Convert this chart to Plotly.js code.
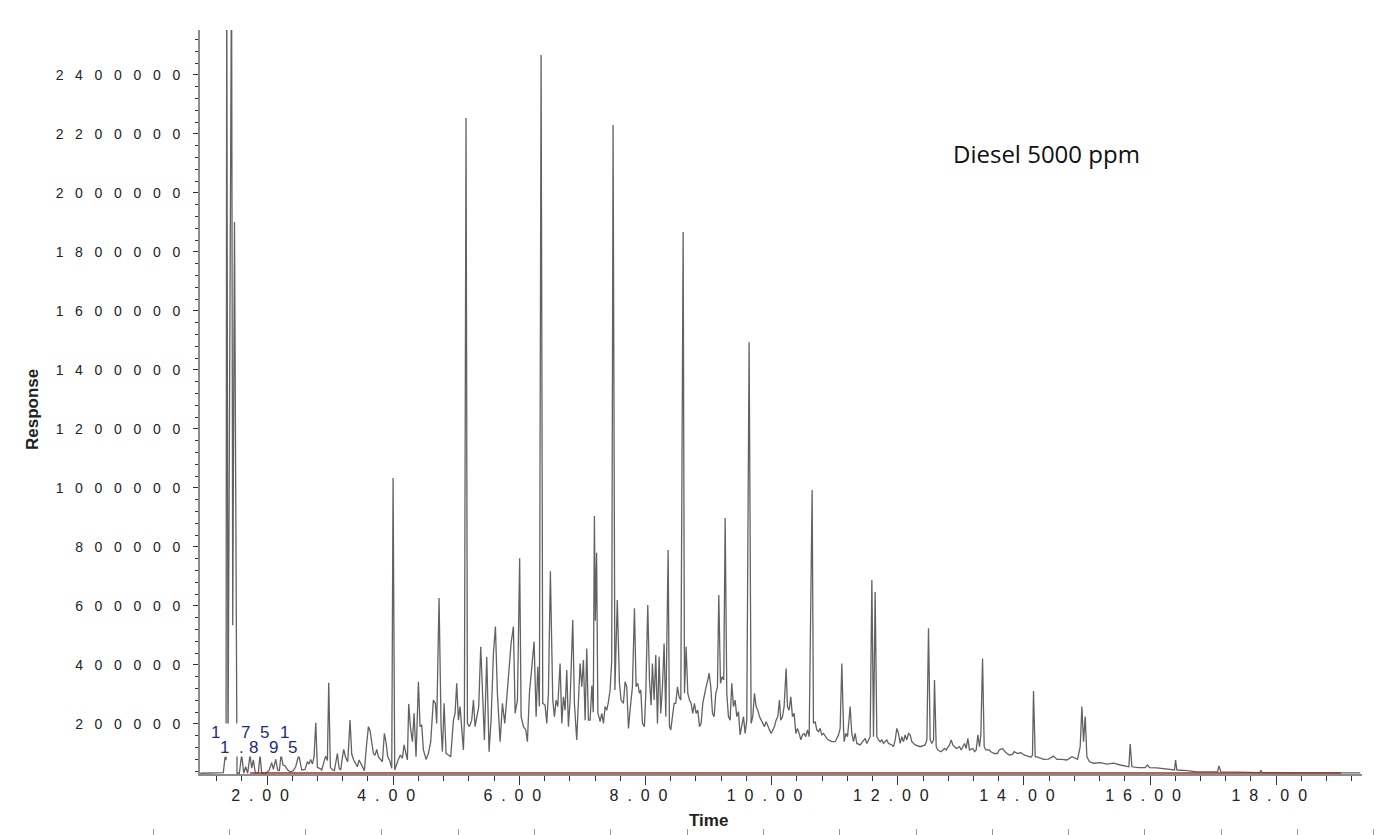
<!DOCTYPE html>
<html>
<head>
<meta charset="utf-8">
<script src="https://cdn.plot.ly/plotly-3.0.1.min.js"></script>
<style>html,body{margin:0;padding:0;background:#fff;}#chart{width:1381px;height:835px;}</style>
</head>
<body>
<div id="chart"></div>
<script>
// ---- chromatogram data: retention time (min) and detector response ----
const time1 = [0.94,1.175,1.307,1.334,1.350,1.361,1.381,1.437,1.456,1.484,
1.524,1.561,1.598,1.630,1.661,1.693,1.730,1.757,1.783,1.815,
1.862,1.889,1.915,1.979,2.031,2.074,2.100,2.137,2.169,2.195,
2.222,2.254,2.285,2.328,2.370,2.417,2.454,2.502,2.550,2.602,
2.639,2.666,2.692,2.719,2.745,2.772,2.798,2.840,2.867,2.898,
2.930,2.957,2.978,3.004,3.041,3.068,3.094,3.115,3.142,3.168,
3.189,3.216,3.242,3.279,3.316,3.342,3.374,3.406,3.432,3.459,
3.490,3.517,3.543,3.575,3.607,3.633,3.660,3.686,3.712,3.739,
3.765,3.797,3.829,3.860,3.887,3.913,3.945,3.977,3.998,4.024,
4.051,4.082,4.114,4.146,4.172,4.199,4.225,4.246,4.273,4.304];
const response1 = [33000,33000,35000,89000,78000,2800000,112000,2800000,535000,1901000,
33000,33000,97000,33000,55000,33000,95000,50000,78000,33000,
35000,95000,33000,33000,42000,69000,46000,80000,44000,42000,
95000,61000,58000,44000,37000,42000,55000,95000,44000,46000,
72000,64000,80000,64000,89000,204000,53000,49000,44000,69000,
91000,76000,340000,53000,44000,42000,72000,100000,50000,44000,
78000,114000,89000,72000,213000,98000,78000,64000,55000,78000,
64000,50000,42000,123000,191000,177000,129000,100000,94000,114000,
89000,80000,72000,168000,137000,89000,76000,50000,1034000,44000,
64000,80000,95000,84000,129000,100000,78000,268000,191000,140000];

const time2 = [4.331,4.362,4.400,4.426,4.452,4.479,4.521,4.558,4.595,4.637,
4.669,4.690,4.727,4.759,4.780,4.807,4.838,4.875,4.912,4.955,
4.981,5.007,5.034,5.060,5.087,5.113,5.129,5.155,5.177,5.208,
5.245,5.272,5.298,5.325,5.356,5.388,5.420,5.446,5.483,5.520,
5.552,5.589,5.621,5.652,5.695,5.732,5.769,5.811,5.843,5.869,
5.906,5.933,5.970,6.005,6.028,6.065,6.102,6.128,6.160,6.197,
6.234,6.266,6.292,6.318,6.345,6.371,6.408,6.435,6.461,6.492,
6.530,6.556,6.583,6.609,6.646,6.673,6.699,6.725,6.752,6.778,
6.805,6.847,6.873,6.910,6.937,6.963,6.990,7.016,7.043,7.069,
7.095,7.122,7.150,7.172,7.190,7.205,7.225,7.245,7.262,7.280,
7.307,7.333,7.360,7.386,7.413,7.439,7.465,7.486,7.515,7.553,
7.587,7.613,7.650,7.677,7.703];
const response2 = [236000,89000,343000,191000,197000,112000,80000,100000,140000,281000,
270000,202000,627000,191000,106000,270000,100000,95000,89000,213000,
236000,338000,213000,259000,168000,112000,213000,2254000,202000,191000,
213000,281000,191000,225000,259000,462000,292000,146000,428000,106000,
213000,439000,530000,304000,140000,270000,202000,304000,394000,473000,
530000,236000,281000,762000,225000,191000,180000,140000,304000,405000,
479000,225000,394000,259000,2467000,270000,264000,202000,304000,718000,
281000,225000,281000,259000,405000,202000,292000,247000,383000,191000,
281000,552000,270000,146000,259000,405000,326000,417000,213000,456000,
213000,213000,330000,240000,905000,550000,780000,236000,225000,208000,
236000,202000,259000,247000,276000,315000,417000,2230000,315000,620000,
338000,281000,270000,343000,326000];

const time3 = [7.730,7.756,7.793,7.825,7.851,7.878,7.904,7.925,7.952,7.983,
8.005,8.036,8.063,8.089,8.110,8.137,8.163,8.190,8.216,8.242,
8.269,8.295,8.322,8.359,8.380,8.401,8.427,8.454,8.480,8.507,
8.533,8.560,8.597,8.618,8.644,8.671,8.697,8.723,8.750,8.776,
8.803,8.829,8.856,8.882,8.908,8.935,8.961,8.988,9.009,9.035,
9.062,9.088,9.115,9.141,9.162,9.189,9.215,9.241,9.263,9.289,
9.315,9.342,9.368,9.395,9.421,9.448,9.474,9.500,9.527,9.553,
9.580,9.606,9.643,9.675,9.701,9.728,9.754,9.781,9.807,9.834,
9.860,9.886,9.913,9.939,9.966,9.992,10.019,10.045,10.071,10.098,
10.124,10.145,10.172,10.198,10.230,10.251,10.277,10.304,10.330,10.357,
10.383,10.410,10.436,10.463,10.489,10.515,10.542,10.568,10.595,10.642,
10.663,10.690,10.716,10.743,10.769,10.796,10.822,10.848,10.875,10.901,
10.954,11.007,11.060,11.086,11.113,11.139];
const response3 = [185000,247000,326000,592000,326000,338000,304000,315000,202000,191000,
304000,603000,349000,264000,405000,281000,434000,202000,428000,236000,
326000,473000,225000,790000,191000,180000,225000,270000,270000,326000,
292000,281000,1867000,304000,462000,304000,281000,270000,236000,270000,
236000,247000,191000,202000,270000,304000,326000,349000,372000,326000,
236000,225000,304000,326000,637000,338000,360000,349000,898000,304000,
225000,213000,338000,259000,281000,225000,242000,163000,191000,225000,
168000,213000,1494000,202000,225000,304000,259000,247000,225000,213000,
202000,191000,208000,191000,180000,168000,180000,191000,213000,225000,
281000,213000,225000,259000,388000,259000,247000,292000,225000,236000,
168000,185000,168000,146000,163000,168000,157000,180000,157000,993000,
202000,208000,180000,174000,185000,163000,168000,157000,151000,146000,
140000,140000,163000,185000,405000,191000];

const time4 = [11.150,11.176,11.203,11.229,11.245,11.271,11.298,11.324,11.351,11.404,
11.456,11.483,11.509,11.536,11.562,11.589,11.615,11.641,11.668,11.694,
11.721,11.747,11.774,11.826,11.853,11.906,11.932,11.959,11.985,12.011,
12.038,12.064,12.091,12.117,12.144,12.170,12.196,12.223,12.276,12.355,
12.434,12.461,12.487,12.514,12.540,12.567,12.582,12.609,12.635,12.688,
12.741,12.767,12.820,12.847,12.873,12.926,12.979,13.005,13.058,13.084,
13.111,13.137,13.190,13.217,13.243,13.270,13.296,13.317,13.344,13.370,
13.396,13.449,13.476,13.529,13.581,13.608,13.661,13.714,13.766,13.819,
13.846,13.899,13.951,14.004,14.057,14.110,14.136,14.152,14.179,14.232,
14.311,14.390,14.470,14.522,14.602,14.681,14.760,14.813,14.850,14.892,
14.919,14.945,14.972,14.998,15.040,15.104,15.183];
const response4 = [140000,168000,157000,219000,259000,168000,140000,168000,134000,129000,
146000,151000,134000,146000,157000,688000,157000,647000,157000,146000,
140000,146000,134000,146000,134000,129000,123000,146000,185000,168000,
134000,157000,140000,163000,146000,168000,163000,140000,129000,123000,
129000,146000,524000,146000,134000,146000,349000,123000,112000,106000,
117000,112000,129000,146000,129000,117000,123000,112000,134000,117000,
151000,112000,117000,106000,112000,163000,123000,163000,422000,123000,
112000,112000,106000,100000,100000,112000,117000,103000,95000,97000,
106000,100000,103000,95000,91000,87000,95000,312000,89000,87000,
80000,81000,91000,80000,80000,78000,89000,84000,80000,123000,
259000,140000,225000,89000,72000,67000,67000];

const time5 = [15.209,15.315,15.421,15.527,15.632,15.664,15.685,15.712,15.817,15.923,
15.960,15.992,16.108,16.240,16.388,16.404,16.425,16.584,16.742,16.954,
17.070,17.091,17.123,17.377,17.588,17.736,17.757,17.778,18.222,18.751,
19.333];
const response5 = [69000,64000,67000,61000,55000,55000,132000,55000,52000,52000,
61000,52000,51000,48000,44000,78000,44000,42000,38000,38000,
38000,58000,38000,37000,35000,35000,42000,35000,34000,34000,
34000];

// integration baseline (red)
const baselineTime = [1.73, 19.03];
const baselineResponse = [34000, 34000];

// tick labels
const xTickVals = [2,4,6,8,10,12,14,16,18];
const xTickLabels = ['2 . 0 0','4 . 0 0','6 . 0 0','8 . 0 0','1 0 . 0 0','1 2 . 0 0','1 4 . 0 0','1 6 . 0 0','1 8 . 0 0'];
const yTickVals = [200000,400000,600000,800000,1000000,1200000,1400000,1600000,1800000,2000000,2200000,2400000];
const yTickLabels = ['2 0 0 0 0 0','4 0 0 0 0 0','6 0 0 0 0 0','8 0 0 0 0 0','1 0 0 0 0 0 0','1 2 0 0 0 0 0','1 4 0 0 0 0 0','1 6 0 0 0 0 0','1 8 0 0 0 0 0','2 0 0 0 0 0 0','2 2 0 0 0 0 0','2 4 0 0 0 0 0'];

// peak labels near the solvent peaks
const peakLabelTopText = ['1','7','5','1'];
const peakLabelTopTime = [1.175,1.651,1.957,2.274];
const peakLabelBottomText = ['1','.','8','9','5'];
const peakLabelBottomTime = [1.323,1.598,1.782,2.100,2.407];
const peakLabelTopResponse = 170000;
const peakLabelBottomResponse = 121000;

// ghost tick marks along the bottom edge
const ghostTicks = [0,1,2,3,4,5,6,7,8,9,10,11,12,13,14,15,16];

const time = [].concat(time1, time2, time3, time4, time5);
const response = [].concat(response1, response2, response3, response4, response5);

const XSEP = '\u00a0\u00a0';
const YSEP = '\u00a0\u00a0\u00a0';

const traces = [
  {x: time, y: response, type: 'scatter', mode: 'lines',
   line: {color: '#626262', width: 1.3}, hoverinfo: 'skip'},
  {x: baselineTime, y: baselineResponse, type: 'scatter', mode: 'lines',
   line: {color: '#a3302e', width: 1.6}, hoverinfo: 'skip'},
  {x: [], y: [], xaxis: 'x2', yaxis: 'y', type: 'scatter', mode: 'lines', hoverinfo: 'skip'}
];

const labelFont = {family: 'Liberation Sans, Arial, sans-serif', size: 17, color: '#1d2d7a'};
const annotations = [
  {xref: 'x', yref: 'y', x: 14.35, y: 2135000, text: 'Diesel 5000 ppm', showarrow: false,
   font: {family: 'Open Sans, sans-serif', size: 24, color: '#111'}},
  {xref: 'paper', yref: 'paper', x: 0.4585, y: 0.0186, text: 'Time', showarrow: false,
   xanchor: 'center', yanchor: 'middle',
   font: {family: 'Liberation Sans, Arial, sans-serif', size: 17, color: '#222', weight: 'bold'}},
  {xref: 'paper', yref: 'paper', x: -0.0862, y: 0.528, text: 'Response', showarrow: false,
   textangle: -90, xanchor: 'center', yanchor: 'middle',
   font: {family: 'Liberation Sans, Arial, sans-serif', size: 17, color: '#222', weight: 'bold'}},
  {xref: 'x', yref: 'y', x: 1.857, y: 145700, text: '\u00a0', showarrow: false,
   width: 88, height: 32, bgcolor: '#ffffff', borderpad: 0}
];
peakLabelTopText.forEach((t, i) => annotations.push({xref: 'x', yref: 'y', x: peakLabelTopTime[i], y: peakLabelTopResponse,
  text: t, showarrow: false, font: labelFont}));
peakLabelBottomText.forEach((t, i) => annotations.push({xref: 'x', yref: 'y', x: peakLabelBottomTime[i], y: peakLabelBottomResponse,
  text: t, showarrow: false, font: labelFont}));

const layout = {
  width: 1381, height: 835,
  margin: {l: 140, r: 0, t: 30, b: 0, pad: 0},
  paper_bgcolor: '#ffffff', plot_bgcolor: 'rgba(0,0,0,0)',
  showlegend: false,
  font: {family: 'Liberation Sans, Arial, sans-serif', color: '#222'},
  xaxis: {
    domain: [0.04835, 0.98469], range: [0.937, 19.36], anchor: 'y',
    tickmode: 'array', tickvals: xTickVals,
    ticktext: xTickLabels.map(s => s.replace(/ /g, XSEP)),
    ticks: 'outside', ticklen: 9, tickwidth: 1, tickcolor: '#333',
    showline: true, linecolor: '#8c8c8c', linewidth: 2, showgrid: false, zeroline: false,
    tickfont: {size: 16, color: '#222'}, layer: 'below traces',
    ticklabelshift: -7, ticklabelstandoff: -3,
    minor: {dtick: 0.4, tick0: 0, ticks: 'outside', ticklen: 5, tickwidth: 1, tickcolor: '#333', showgrid: false}
  },
  yaxis: {
    domain: [0.07578, 1], range: [30500, 2552000], anchor: 'x',
    tickmode: 'array', tickvals: yTickVals, ticktext: yTickLabels.map(s => s.replace(/ /g, YSEP)),
    ticks: 'outside', ticklen: 5, tickwidth: 1, tickcolor: '#333',
    showline: true, linecolor: '#8c8c8c', linewidth: 2, showgrid: false, zeroline: false,
    tickfont: {size: 14, color: '#222'}, ticklabelstandoff: 10, layer: 'below traces',
    minor: {dtick: 40000, tick0: 0, ticks: 'outside', ticklen: 3, tickwidth: 1, tickcolor: '#333', showgrid: false}
  },
  xaxis2: {
    anchor: 'free', position: 0, domain: [0, 1], range: [-0.1704, 16.094],
    tickmode: 'array', tickvals: ghostTicks, showticklabels: false,
    ticks: 'inside', ticklen: 6, tickwidth: 1, tickcolor: '#9a9a9a',
    showline: false, showgrid: false, zeroline: false
  },
  annotations: annotations
};

Plotly.newPlot('chart', traces, layout, {staticPlot: true, displayModeBar: false});
</script>
</body>
</html>
